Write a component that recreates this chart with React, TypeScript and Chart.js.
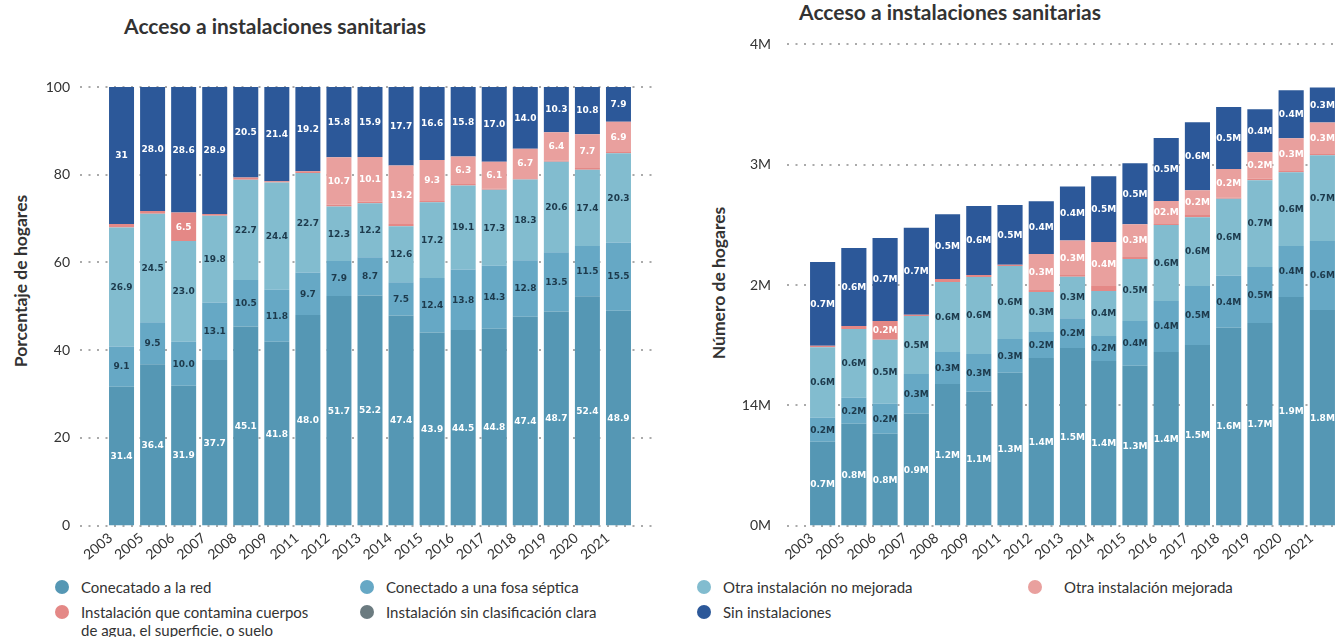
import React, { useEffect, useRef } from 'react';
import { Chart, registerables } from 'chart.js';

Chart.register(...registerables);

// ---------- DATA ----------
const years = ['2003', '2005', '2006', '2007', '2008', '2009', '2011', '2012', '2013', '2014', '2015', '2016', '2017', '2018', '2019', '2020', '2021'];

const seriesNames = [
  'Conecatado a la red',
  'Conectado a una fosa séptica',
  'Otra instalación no mejorada',
  'Instalación que contamina cuerpos de agua, el superficie, o suelo',
  'Otra instalación mejorada',
  'Instalación sin clasificación clara',
  'Sin instalaciones',
];

// Percent of households (left chart)
const redPct = [31.4, 36.4, 31.9, 37.7, 45.1, 41.8, 48.0, 51.7, 52.2, 47.4, 43.9, 44.5, 44.8, 47.4, 48.7, 52.4, 48.9];
const fosaPct = [9.1, 9.5, 10.0, 13.1, 10.5, 11.8, 9.7, 7.9, 8.7, 7.5, 12.4, 13.8, 14.3, 12.8, 13.5, 11.5, 15.5];
const noMejPct = [26.9, 24.5, 23.0, 19.8, 22.7, 24.4, 22.7, 12.3, 12.2, 12.6, 17.2, 19.1, 17.3, 18.3, 20.6, 17.4, 20.3];
const contamPct = [0.8, 0.6, 6.5, 0.4, 0.5, 0.3, 0.4, 0.4, 0.4, 0.5, 0.3, 0.3, 0.3, 0.3, 0.3, 0.4, 0.3];
const mejPct = [0, 0, 0, 0, 0, 0, 0, 10.7, 10.1, 13.2, 9.3, 6.3, 6.1, 6.7, 6.4, 7.7, 6.9];
const sinClasPct = [0, 0, 0, 0, 0, 0, 0, 0, 0, 0, 0, 0, 0, 0, 0, 0, 0];
const sinPct = [31, 28.0, 28.6, 28.9, 20.5, 21.4, 19.2, 15.8, 15.9, 17.7, 16.6, 15.8, 17.0, 14.0, 10.3, 10.8, 7.9];
const pctLabelOverrides: Record<string, string> = { '6-0': '31' };

// Number of households, millions (right chart)
const redM = [0.697, 0.846, 0.763, 0.929, 1.178, 1.112, 1.270, 1.394, 1.477, 1.369, 1.328, 1.444, 1.502, 1.645, 1.685, 1.900, 1.793];
const fosaM = [0.199, 0.216, 0.249, 0.332, 0.266, 0.315, 0.282, 0.216, 0.246, 0.208, 0.373, 0.423, 0.490, 0.432, 0.464, 0.424, 0.572];
const noMejM = [0.587, 0.573, 0.532, 0.482, 0.581, 0.639, 0.606, 0.332, 0.345, 0.373, 0.515, 0.631, 0.572, 0.639, 0.722, 0.614, 0.714];
const contamM = [0.013, 0.025, 0.157, 0.010, 0.025, 0.017, 0.010, 0.017, 0.016, 0.042, 0.016, 0.010, 0.017, 0.011, 0.014, 0.016, 0.016];
const mejM = [0, 0, 0, 0, 0, 0, 0, 0.298, 0.286, 0.365, 0.274, 0.191, 0.207, 0.238, 0.219, 0.266, 0.255];
const sinClasM = [0, 0, 0, 0, 0, 0, 0, 0, 0, 0, 0, 0, 0, 0, 0, 0, 0];
const sinM = [0.695, 0.647, 0.689, 0.722, 0.539, 0.573, 0.498, 0.440, 0.448, 0.548, 0.506, 0.523, 0.565, 0.514, 0.357, 0.398, 0.291];
const mLabelOverrides: Record<string, string> = { '4-11': '02.M' };

const pctTicks = ['0', '20', '40', '60', '80', '100'];
const mTicks = ['0M', '14M', '2M', '3M', '4M'];

// ---------- STYLE ----------
const colors = ['#5597b4', '#66a8c5', '#82bccf', '#e48886', '#e9a09e', '#6b7b80', '#2c5899'];
const labelColors = ['#ffffff', '#1d3a4c', '#1d3a4c', '#ffffff', '#ffffff', '#ffffff', '#ffffff'];
const FONT = 'Lato, "Noto Sans", sans-serif';
const TEXT = '#333333';

const dotGrid = {
  id: 'dotGrid',
  beforeDatasetsDraw(chart: any, _args: any, opts: any) {
    const { ctx, chartArea } = chart;
    const y = chart.scales.y;
    ctx.save();
    ctx.strokeStyle = '#aaaaaa';
    ctx.lineWidth = 2;
    ctx.setLineDash([2, 6.5]);
    y.ticks.forEach((_t: any, i: number) => {
      const py = Math.round(y.getPixelForTick(i));
      ctx.beginPath();
      ctx.moveTo(chartArea.left - opts.left, py);
      ctx.lineTo(chartArea.right + opts.right, py);
      ctx.stroke();
    });
    ctx.restore();
  },
};

const segLabels = {
  id: 'segLabels',
  afterDatasetsDraw(chart: any, _args: any, opts: any) {
    const ctx = chart.ctx;
    ctx.save();
    ctx.font = 'bold 9px "DejaVu Sans", sans-serif';
    ctx.textAlign = 'center';
    ctx.textBaseline = 'middle';
    chart.data.datasets.forEach((_ds: any, di: number) => {
      const meta = chart.getDatasetMeta(di);
      meta.data.forEach((bar: any, i: number) => {
        const { x, y, base } = bar.getProps(['x', 'y', 'base'], true);
        const h = Math.abs(base - y);
        if (h < 11) return;
        ctx.fillStyle = labelColors[di];
        ctx.fillText(opts.format(di, i), x, (y + base) / 2 + 0.5);
      });
    });
    ctx.restore();
  },
};

function makeConfig(kind: 'pct' | 'm') {
  const isPct = kind === 'pct';
  const raw = isPct
    ? [redPct, fosaPct, noMejPct, contamPct, mejPct, sinClasPct, sinPct]
    : [redM, fosaM, noMejM, contamM, mejM, sinClasM, sinM];
  const totals = years.map((_, i) => raw.reduce((s, arr) => s + arr[i], 0));
  const plotted = isPct ? raw.map((arr) => arr.map((v, i) => (v / totals[i]) * 100)) : raw;
  const tickText = isPct ? pctTicks : mTicks;
  const yWidth = isPct ? 106 : 117;
  return {
    type: 'bar',
    data: {
      labels: years,
      datasets: seriesNames.map((name, di) => ({
        label: name,
        data: plotted[di],
        backgroundColor: colors[di],
        borderWidth: 0,
        barPercentage: 0.805,
        categoryPercentage: 1,
      })),
    },
    options: {
      animation: false,
      responsive: false,
      maintainAspectRatio: false,
      events: [],
      layout: { padding: { top: isPct ? 87 : 44, right: isPct ? 46 : 52, left: 0, bottom: 0 } },
      plugins: {
        legend: { display: false },
        title: { display: false },
        tooltip: { enabled: false },
        dotGrid: { left: isPct ? 26 : 20, right: isPct ? 21 : 60 },
        segLabels: {
          format: (di: number, i: number) => {
            const key = `${di}-${i}`;
            if (isPct) return pctLabelOverrides[key] ?? raw[di][i].toFixed(1);
            return mLabelOverrides[key] ?? raw[di][i].toFixed(1) + 'M';
          },
        },
      },
      scales: {
        x: {
          stacked: true,
          grid: { display: false, drawTicks: false },
          border: { display: false },
          ticks: {
            autoSkip: false,
            minRotation: 40,
            maxRotation: 40,
            padding: 4,
            labelOffset: -11,
            color: TEXT,
            font: { family: FONT, size: 14 },
          },
          afterFit: (s: any) => { s.height = 44; },
        },
        y: {
          stacked: true,
          min: 0,
          max: isPct ? 100 : 4,
          grid: { display: false, drawTicks: false },
          border: { display: false },
          ticks: {
            stepSize: isPct ? 20 : 1,
            padding: 36,
            color: TEXT,
            font: { family: FONT, size: 14 },
            callback: (_v: any, idx: number) => tickText[idx],
          },
          afterFit: (s: any) => { s.width = yWidth; },
        },
      },
    },
    plugins: [dotGrid, segLabels],
  };
}

function ChartCanvas({ kind, width, height, style }: { kind: 'pct' | 'm'; width: number; height: number; style: any }) {
  const ref = useRef<HTMLCanvasElement>(null);
  useEffect(() => {
    const chart = new Chart(ref.current as HTMLCanvasElement, makeConfig(kind) as any);
    return () => chart.destroy();
  }, [kind]);
  return <canvas ref={ref} width={width} height={height} style={{ position: 'absolute', width, height, ...style }} />;
}

const legendItems = [
  { s: 0, left: 55, top: 578 },
  { s: 1, left: 360, top: 578 },
  { s: 2, left: 697, top: 578 },
  { s: 4, left: 1028, top: 578, gap: 22 },
  { s: 3, left: 55, top: 603, text: ['Instalación que contamina cuerpos', 'de agua, el superficie, o suelo'] },
  { s: 5, left: 360, top: 603 },
  { s: 6, left: 697, top: 603 },
];

const titleStyle = { position: 'absolute', transform: 'translate(-50%,-50%)', fontWeight: 700, fontSize: 21, whiteSpace: 'nowrap' } as const;
const axisTitleStyle = { position: 'absolute', transform: 'translate(-50%,-50%) rotate(-90deg)', fontWeight: 700, fontSize: 17.5, whiteSpace: 'nowrap' } as const;

export default function App() {
  return (
    <div style={{ position: 'fixed', left: 0, top: 0, width: 1335, height: 637, overflow: 'hidden', background: '#fff', fontFamily: FONT, color: TEXT }}>
      <div style={{ ...titleStyle, left: 275, top: 25 }}>Acceso a instalaciones sanitarias</div>
      <div style={{ ...titleStyle, left: 950, top: 11 }}>Acceso a instalaciones sanitarias</div>
      <div style={{ ...axisTitleStyle, left: 20, top: 281 }}>Porcentaje de hogares</div>
      <div style={{ ...axisTitleStyle, left: 718, top: 283 }}>Número de hogares</div>
      <ChartCanvas kind="pct" width={680} height={570} style={{ left: 0, top: 0 }} />
      <ChartCanvas kind="m" width={700} height={570} style={{ left: 690, top: 0 }} />
      {legendItems.map((it) => (
        <div key={it.s} style={{ position: 'absolute', left: it.left, top: it.top, display: 'flex', alignItems: 'flex-start', fontSize: 15, lineHeight: '18px' }}>
          <span style={{ display: 'inline-block', width: 14, height: 14, borderRadius: 7, background: colors[it.s], marginTop: 2, marginRight: it.gap ?? 12, flex: 'none' }} />
          <span>
            {(it.text ?? [seriesNames[it.s]]).map((t, k) => (
              <div key={k}>{t}</div>
            ))}
          </span>
        </div>
      ))}
    </div>
  );
}
